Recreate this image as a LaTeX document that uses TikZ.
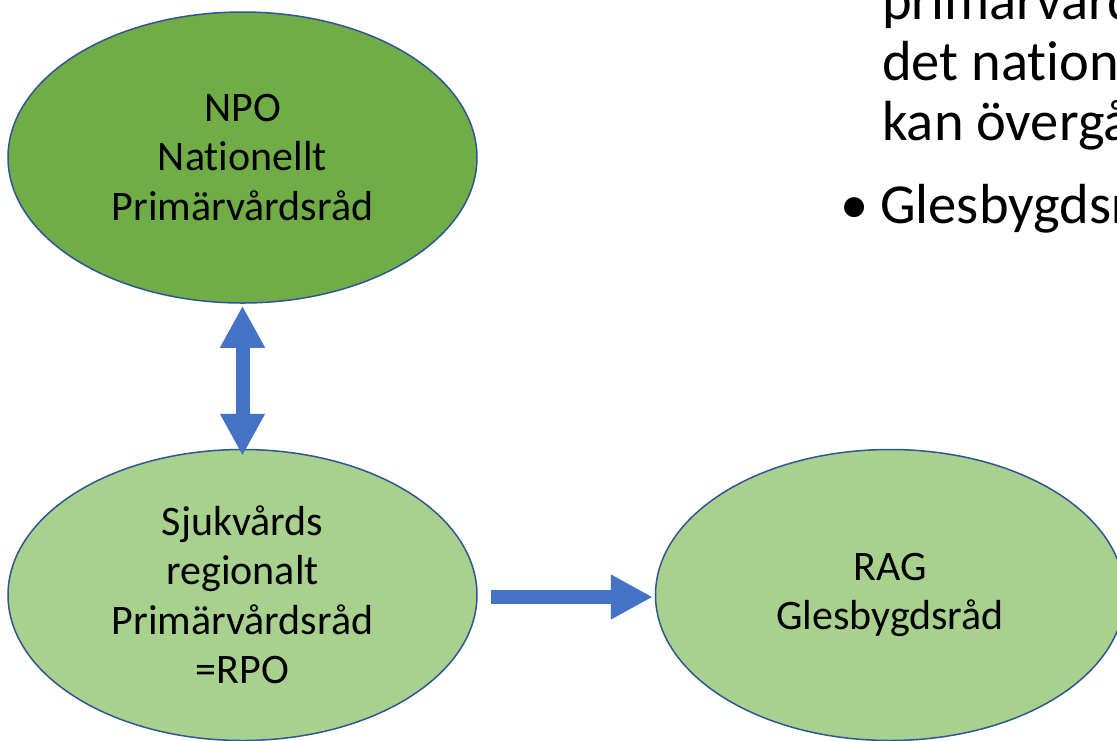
\documentclass[tikz,border=0pt]{standalone}
\usepackage{fontspec}
\setmainfont{Carlito}[Ligatures={NoCommon}]
\usetikzlibrary{shapes.geometric,arrows.meta}
\definecolor{darkgreen}{HTML}{70AD47}
\definecolor{lightgreen}{HTML}{A9D18E}
\definecolor{edgeblue}{HTML}{2F5597}
\definecolor{arrowblue}{HTML}{4472C4}
\tikzset{bigtip/.tip={Triangle[length=42pt,width=42pt]}}
\begin{document}
\begin{tikzpicture}[x=1pt,y=-1pt,
  council/.style={ellipse, draw=edgeblue, line width=1.5pt, minimum width=469pt,
    minimum height=291pt, inner sep=0pt, align=center, text=black,
    font=\fontsize{42}{49.5}\selectfont},
  bigarrow/.style={draw=arrowblue, fill=arrowblue, line width=14pt},
  bodytext/.style={anchor=base west, inner sep=0pt, text=black,
    font=\fontsize{56.5}{60}\selectfont}
]
\useasboundingbox (0,0) rectangle (1117,740);
\clip (0,0) rectangle (1117,740);
\fill[white] (0,0) rectangle (1117,740);

% councils
\node[council, fill=darkgreen] (npo) at (242.5,157.5) {NPO\\Nationellt\\Primärvårdsråd};
\node[council, fill=lightgreen] (rpo) at (242.5,595) {Sjukvårds\\regionalt\\Primärvårdsråd\\=RPO};
\node[council, fill=lightgreen] (rag) at (890,595) {RAG\\Glesbygdsråd};

% arrows
\draw[bigarrow, bigtip-bigtip] ([yshift=-2pt]npo.south) -- ([yshift=-7pt]rpo.north);
\draw[bigarrow, -bigtip] ([xshift=13pt,yshift=-2pt]rpo.east) -- ([xshift=-2pt,yshift=-2pt]rag.west);

% bullet text on the right (cropped at the picture's edge)
\node[bodytext] (l1) at (882,19) {primärvård};
\node[bodytext] (l2) at (882,80) {det nation};
\node[bodytext] (l3) at (882,140) {kan övergå};
\node[bodytext] (bul) at (840,223) {\textbullet};
\node[bodytext] (l4) at (880,223) {Glesbygdsr};
\end{tikzpicture}
\end{document}
